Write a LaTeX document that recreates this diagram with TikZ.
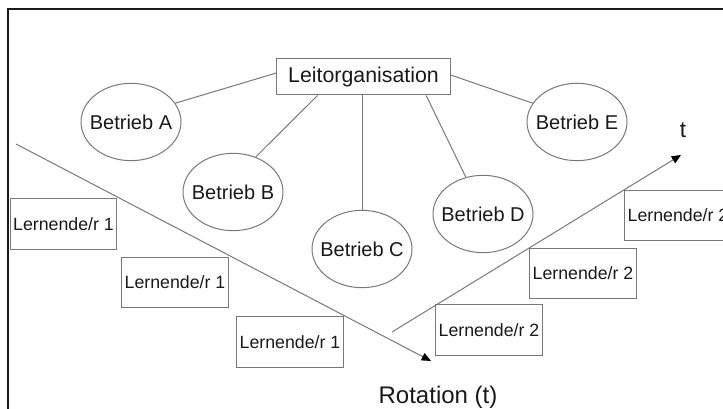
\documentclass[tikz,border=0pt]{standalone}
\usepackage{fontspec}
\setmainfont{Liberation Sans}
\usetikzlibrary{shapes.geometric,arrows.meta}

\definecolor{linegray}{RGB}{120,120,120}
\definecolor{textgray}{RGB}{25,25,25}

\tikzset{every picture/.style={line width=0.75pt}}
\tikzset{
  betrieb/.style={draw=linegray, ellipse, inner xsep=-6pt, inner ysep=0pt, minimum width=75pt, minimum height=58pt, text=textgray, font=\fontsize{15}{18}\selectfont},
  lernbox/.style={draw=linegray, rectangle, inner sep=0pt, minimum width=80pt, minimum height=38pt, text=textgray, font=\fontsize{13.3}{15}\selectfont},
  leitbox/.style={draw=linegray, rectangle, inner sep=0pt, minimum width=130pt, minimum height=27pt, text=textgray, font=\fontsize{16}{19}\selectfont},
  verbind/.style={draw=linegray},
  zeitpfeil/.style={draw=linegray, -{Triangle[length=7pt,width=6pt,color=black]}}
}

\begin{document}
\begin{tikzpicture}[x=0.75pt,y=0.75pt,yscale=-1,xscale=1]
\useasboundingbox (0,0) rectangle (723,409);

%Frame
\draw [line width=1.1pt, color=textgray] (8,409) -- (8,9) -- (723,9) ;

%Shape: Rectangle [id:leit]
\node [leitbox] (leit) at (363.5,77) {Leitorganisation};

%Shape: Ellipse [id:betriebA]
\node [betrieb] (a) at (131,122) {Betrieb A};
%Shape: Ellipse [id:betriebB]
\node [betrieb] (b) at (233,192) {Betrieb B};
%Shape: Ellipse [id:betriebC]
\node [betrieb] (c) at (362,249) {Betrieb C};
%Shape: Ellipse [id:betriebD]
\node [betrieb] (d) at (483,214) {Betrieb D};
%Shape: Ellipse [id:betriebE]
\node [betrieb] (e) at (577,122) {Betrieb E};

%Straight Lines
\draw [verbind] ([yshift=-3pt]leit.west) -- (a.23) ;
\draw [verbind] ([xshift=-34.5pt]leit.south) -- (b.57) ;
\draw [verbind] (c.north |- leit.south) -- (c.north) ;
\draw [verbind] ([xshift=47pt]leit.south) -- (d.115) ;
\draw [verbind] ([yshift=-1.5pt]leit.east) -- (e.157) ;

%Shape: Rectangle [id:lernende1]
\node [lernbox] (l1a) at (63.5,224) {Lernende/r 1};
\node [lernbox] (l1b) at (175,282.5) {Lernende/r 1};
\node [lernbox] (l1c) at (290,342) {Lernende/r 1};

%Shape: Rectangle [id:lernende2]
\node [lernbox] (l2a) at (489,330) {Lernende/r 2};
\node [lernbox] (l2b) at (583,273.5) {Lernende/r 2};
\node [lernbox] (l2c) at (678,215.5) {Lernende/r 2};

%Arrows
\coordinate (rotstart) at (16,144);
\coordinate (rotend) at (431,361);
\draw [zeitpfeil] (rotstart) -- (rotend) ;
\coordinate (tstart) at (392,332);
\coordinate (tend) at (681,155);
\draw [zeitpfeil] (tstart) -- (tend) ;

% Text Node
\node [text=textgray, font=\fontsize{17}{20}\selectfont] (tlabel) at (683,130) {t};
% Text Node
\node [text=textgray, font=\fontsize{18}{21}\selectfont] (rotlabel) at (438,397) {Rotation (t)};

\end{tikzpicture}
\end{document}
